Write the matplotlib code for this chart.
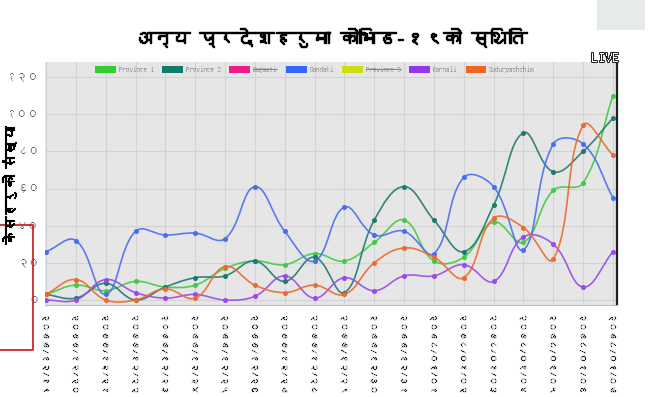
import numpy as np
import matplotlib
matplotlib.use('Agg')
import matplotlib.pyplot as plt
from matplotlib.path import Path
from matplotlib.patches import PathPatch, Patch, Rectangle
from matplotlib.lines import Line2D
import matplotlib.patheffects as pe
from matplotlib import font_manager
from fontTools.ttLib import TTFont

title = 'अन्य प्रदेशहरुमा कोभिड-१९को स्थिति'
ylabel = 'केसहरुको संख्या'

dates = ['२०७७/१२/१९', '२०७७/१२/२०', '२०७७/१२/२१', '२०७७/१२/२२', '२०७७/१२/२३',
         '२०७७/१२/२४', '२०७७/१२/२५', '२०७७/१२/२६', '२०७७/१२/२७', '२०७७/१२/२८',
         '२०७७/१२/२९', '२०७७/१२/३०', '२०७७/१२/३१', '२०७८/०१/०१', '२०७८/०१/०२',
         '२०७८/०१/०३', '२०७८/०१/०४', '२०७८/०१/०५', '२०७८/०१/०६', '२०७८/०१/०७']

yticks = [0, 20, 40, 60, 80, 100, 120]
ytick_labels = ['०', '२०', '४०', '६०', '८०', '१००', '१२०']

province1 = [3, 8, 5, 10, 7, 8, 17, 21, 19, 25, 21, 31, 43, 21, 23, 42, 31, 59, 63, 110]
province2 = [3, 1, 9, 0, 7, 12, 13, 21, 10, 23, 4, 43, 61, 43, 26, 51, 90, 69, 80, 98]
gandaki = [26, 32, 3, 37, 35, 36, 33, 61, 37, 21, 50, 35, 37, 25, 66, 61, 27, 84, 84, 55]
karnali = [0, 0, 11, 4, 1, 3, 0, 2, 13, 1, 12, 5, 13, 13, 19, 10, 34, 30, 7, 26]
sudurpashchim = [3, 11, 0, 0, 6, 1, 18, 8, 4, 8, 3, 20, 28, 23, 12, 44, 39, 22, 94, 78]

legend_names = ['Province 1', 'Province 2', 'Bagmati', 'Gandaki', 'Province 5', 'Karnali', 'Sudurpashchim']
legend_colors = ['#33cc33', '#127a6c', '#ee1a8c', '#3366ff', '#ccdd11', '#9933ee', '#ee6622']
hidden = ['Bagmati', 'Province 5']

series = [
    (province1, '#44c944'),
    (province2, '#1f7a6e'),
    (gandaki, '#4a6ef0'),
    (karnali, '#9a4ae8'),
    (sudurpashchim, '#ec6a2c'),
]


# find a font that has Devanagari glyphs, if any is installed
def find_deva():
    for f in font_manager.fontManager.ttflist:
        try:
            tt = TTFont(f.fname, fontNumber=0, lazy=True)
            cmap = tt.getBestCmap()
            if cmap and 0x0915 in cmap:
                return f.name
        except Exception:
            pass
    return None


deva = find_deva()
if deva:
    plt.rcParams['font.family'] = [deva, 'DejaVu Sans']


def smooth_path(ys, sx, sy, ymin, ymax, t=0.4):
    # chart.js style bezier curve through the points
    xs = np.arange(len(ys), dtype=float)
    ys = np.array(ys, dtype=float)
    n = len(ys)
    cps_prev, cps_next = [], []
    for i in range(n):
        p = i - 1 if i > 0 else i
        q = i + 1 if i < n - 1 else i
        d01 = np.hypot((xs[i] - xs[p]) * sx, (ys[i] - ys[p]) * sy)
        d12 = np.hypot((xs[q] - xs[i]) * sx, (ys[q] - ys[i]) * sy)
        tot = d01 + d12
        s01 = d01 / tot if tot else 0
        s12 = d12 / tot if tot else 0
        fa, fb = t * s01, t * s12
        dx, dy = xs[q] - xs[p], ys[q] - ys[p]
        cps_prev.append((xs[i] - fa * dx, min(max(ys[i] - fa * dy, ymin), ymax)))
        cps_next.append((xs[i] + fb * dx, min(max(ys[i] + fb * dy, ymin), ymax)))
    verts = [(xs[0], ys[0])]
    codes = [Path.MOVETO]
    for i in range(n - 1):
        verts += [cps_next[i], cps_prev[i + 1], (xs[i + 1], ys[i + 1])]
        codes += [Path.CURVE4] * 3
    return Path(verts, codes)


fig = plt.figure(figsize=(6.5, 3.97), dpi=100)
ax = fig.add_axes([45 / 650, 1 - 305 / 397, 572 / 650, 243 / 397])
ax.set_facecolor('#e6e6e6')
ax.set_xlim(-0.034, 19.134)
ax.set_ylim(-2.7, 128.1)

for vals, c in series:
    path = smooth_path(vals, 29.84, 1.86, -2.7, 128.1)
    ax.add_patch(PathPatch(path, facecolor='none', edgecolor=c, lw=1.2, alpha=0.9, zorder=3))
    ax.plot(range(len(vals)), vals, 'o', ms=2.6, color=c, zorder=4)

bold_thin = [pe.withStroke(linewidth=0.15, foreground='#333333')]
ax.set_xticks(range(len(dates)))
ax.set_xticklabels(dates, rotation=-90, fontsize=6.5, color='#222222')
for lbl in ax.get_xticklabels():
    lbl.set_path_effects(bold_thin)
ax.set_yticks(yticks)
ax.set_yticklabels(ytick_labels, fontsize=8, color='#333333')
ax.tick_params(length=0)
ax.tick_params(axis='x', pad=6)
ax.tick_params(axis='y', pad=4)
ax.grid(color='#d3d3d3', lw=0.8)
ax.set_axisbelow(True)
for s in ['top', 'left']:
    ax.spines[s].set_visible(False)
ax.spines['bottom'].set_color('#bdbdbd')
ax.spines['right'].set_color('#222222')
ax.spines['right'].set_linewidth(1.6)

handles = [Patch(facecolor=c, edgecolor='none') for c in legend_colors]
leg = ax.legend(handles, legend_names, ncol=7, loc='upper center',
                bbox_to_anchor=(0.472, 1.01), frameon=False, fontsize=5,
                handlelength=3.0, handleheight=1.1, columnspacing=1.2,
                handletextpad=0.4, labelcolor='#777777')

fig.text(0.508, 1 - 37 / 397, title, ha='center', va='center',
         fontsize=13.5, fontweight='bold',
         path_effects=[pe.withStroke(linewidth=1.0, foreground='black')])
fig.text(0.014, 1 - 185 / 397, ylabel, rotation=90, ha='center', va='center',
         fontsize=10, fontweight='bold',
         path_effects=[pe.withStroke(linewidth=0.8, foreground='black')])
fig.text(605 / 650, 1 - 58 / 397, 'LIVE', ha='center', va='center', fontsize=10,
         fontweight='bold', color='white',
         path_effects=[pe.withStroke(linewidth=1.5, foreground='#222222')])

# logo box top right
fig.add_artist(Rectangle((597 / 650, 1 - 30 / 397), 48 / 650, 30 / 397,
                         transform=fig.transFigure, facecolor='#e6ebe9',
                         edgecolor='none'))

# red overlay lines on the left
red = '#c8262b'
fig.add_artist(Line2D([0, 33 / 650, 33 / 650, 0],
                      [1 - 225 / 397, 1 - 225 / 397, 1 - 350 / 397, 1 - 350 / 397],
                      transform=fig.transFigure, color=red, lw=1.3))

# strike through hidden legend entries
fig.canvas.draw()
r = fig.canvas.get_renderer()
inv = fig.transFigure.inverted()
for txt in leg.get_texts():
    if txt.get_text() in hidden:
        bb = txt.get_window_extent(r)
        ym = (bb.y0 + bb.y1) / 2
        (x0, y0), (x1, _) = inv.transform([(bb.x0, ym), (bb.x1, ym)])
        fig.add_artist(Line2D([x0, x1], [y0, y0], transform=fig.transFigure,
                              color='#777777', lw=0.6))

fig.savefig('out.png', dpi=100)
